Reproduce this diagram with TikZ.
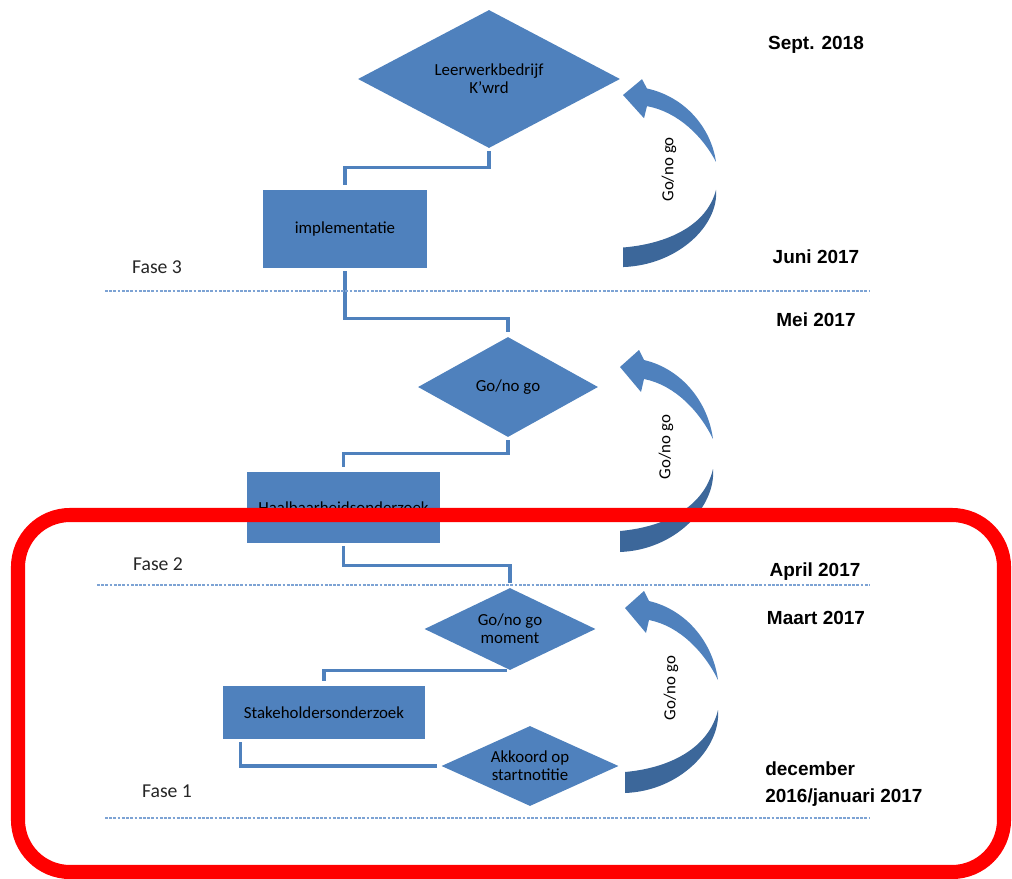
\documentclass[tikz,border=0pt]{standalone}
\usepackage{fontspec}
\setmainfont{Carlito}
\newfontfamily\datefont{Liberation Sans}
\usetikzlibrary{shapes.geometric}
\definecolor{boxblue}{RGB}{79,129,189}
\definecolor{darkblue}{RGB}{60,103,154}
\definecolor{dashblue}{RGB}{125,163,212}

\begin{document}
\begin{tikzpicture}[x=0.025cm, y=-0.025cm,
		box/.style={rectangle, fill=boxblue, inner sep=0pt, align=center, font=\fontsize{12}{13}\selectfont},
		decision/.style={diamond, fill=boxblue, inner sep=0pt, aspect=2, align=center, font=\fontsize{12}{13}\selectfont},
		link/.style={draw=boxblue, line width=2.2pt, shorten <=2pt, shorten >=3pt},
		datelabel/.style={font=\datefont\bfseries\fontsize{13.5}{19}\selectfont, align=left},
		faselabel/.style={text=black!85, font=\fontsize{14}{16}\selectfont},
		phaseline/.style={draw=dashblue, line width=0.8pt, dash pattern=on 2pt off 1pt},
		cycarrow/.pic={
			\fill[boxblue] (0,0) -- (19,-17) -- (24,-7) .. controls (62,2) and (88,35) .. (93,72)
				.. controls (80,45) and (55,18) .. (24,12) -- (21,25) -- cycle;
			\fill[darkblue] (93,102) .. controls (96,140) and (55,183) .. (0,185) -- (0,164)
				.. controls (45,160) and (84,140) .. (93,102) -- cycle;
			\node[rotate=90, font=\fontsize{12}{13}\selectfont] (-label) at (46,80) {Go/no go};
		}]
		\useasboundingbox (0,0) rectangle (1012,879);
		% Flow, from top to bottom
		\node[decision, minimum width=6.55cm, minimum height=3.45cm] (leerwerk) at (489,79) {Leerwerkbedrijf\\K'wrd};
		\node[box, minimum width=4.1cm, minimum height=1.95cm] (implementatie) at (345,229) {implementatie};
		\node[decision, minimum width=4.5cm, minimum height=2.5cm] (gonogo) at (508,387) {Go/no go};
		\node[box, minimum width=4.825cm, minimum height=1.775cm] (haalbaar) at (343.5,507.5) {Haalbaarheidsonderzoek};
		\node[decision, minimum width=4.275cm, minimum height=2.05cm] (moment) at (510,629) {Go/no go\\moment};
		\node[box, minimum width=5.05cm, minimum height=1.325cm] (stakeholders) at (324,712.5) {Stakeholdersonderzoek};
		\node[decision, minimum width=4.425cm, minimum height=2cm] (akkoord) at (530,766) {Akkoord op\\startnotitie};
		\draw[link] (leerwerk.south) -- ++(0,19) -| (implementatie.north);
		\draw[link] (implementatie.south) -- ++(0,50) -| (gonogo.north);
		\draw[link] (gonogo.south) -- ++(0,16) -| (haalbaar.north);
		\draw[link] (haalbaar.south) -- ++(0,22) -| (moment.north);
		\draw[link] (moment.south) -| (stakeholders.north);
		\draw[link] ([xshift=0.45cm]stakeholders.south west) |- (akkoord.west);
		% Go/no go loops
		\pic[yscale=0.93] (loopC) at (623,95) {cycarrow};
		\pic (loopB) at (620,367) {cycarrow};
		\pic (loopA) at (625,608) {cycarrow};
		% Phases
		\draw[phaseline] (105,291) -- (870,291);
		\draw[phaseline] (97,585) -- (870,585);
		\draw[phaseline] (105,818) -- (870,818);
		\node[faselabel] (fase3) at (157,267) {Fase 3};
		\node[faselabel] (fase2) at (158,564) {Fase 2};
		\node[faselabel] (fase1) at (167,791) {Fase 1};
		\node[datelabel] (sept) at (816,45) {Sept. 2018};
		\node[datelabel] (juni) at (816,257) {Juni 2017};
		\node[datelabel] (mei) at (816,320) {Mei 2017};
		\node[datelabel] (april) at (815,572) {April 2017};
		\node[datelabel] (maart) at (816,618) {Maart 2017};
		\node[datelabel, anchor=west, inner sep=0pt] (december) at (765,784) {december\\2016/januari 2017};
		\draw[red, line width=10pt, rounded corners=1.3cm] (18,515) rectangle (1004,872);
	\end{tikzpicture}
\end{document}
